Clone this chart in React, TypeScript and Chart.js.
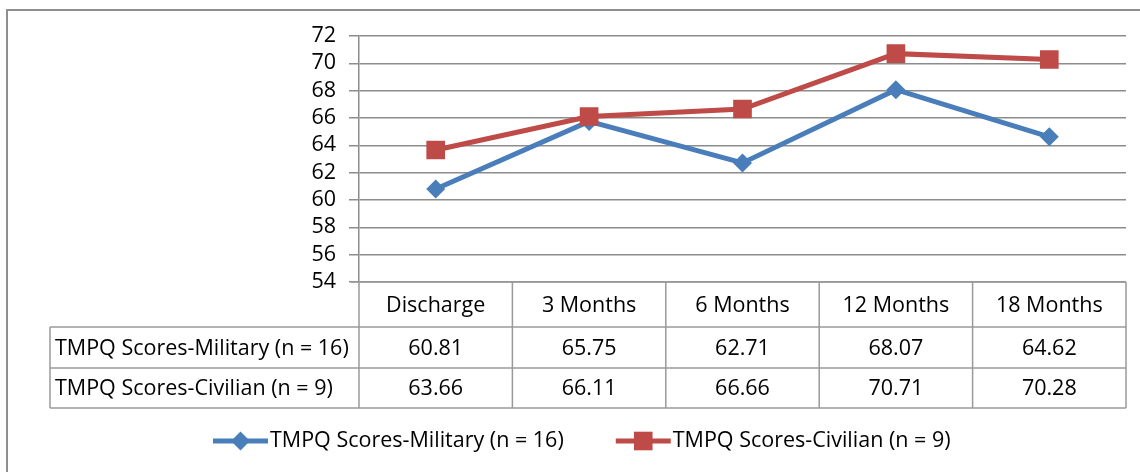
import React, { useEffect, useRef } from "react";
import { Chart, registerables } from "chart.js";

Chart.register(...registerables);

const categories = ["Discharge", "3 Months", "6 Months", "12 Months", "18 Months"];
const militaryLabel = "TMPQ Scores-Military (n = 16)";
const civilianLabel = "TMPQ Scores-Civilian (n = 9)";
const militaryValues = [60.81, 65.75, 62.71, 68.07, 64.62];
const civilianValues = [63.66, 66.11, 66.66, 70.71, 70.28];
const yMin = 54;
const yMax = 72;
const yStep = 2;

const FONT = "'Open Sans', sans-serif";
const FONT_SIZE = 21.5;
const BLUE = "#4A7EBB";
const RED = "#BE4B48";
const GRID = "#8c8c8c";
const TABLE = "#9a9a9a";

function drawMarker(ctx: CanvasRenderingContext2D, style: string, x: number, y: number, color: string) {
  ctx.save();
  ctx.fillStyle = color;
  ctx.beginPath();
  if (style === "rectRot") {
    const r = 9.5;
    ctx.moveTo(x, y - r);
    ctx.lineTo(x + r, y);
    ctx.lineTo(x, y + r);
    ctx.lineTo(x - r, y);
    ctx.closePath();
  } else {
    const h = 9.3;
    ctx.rect(x - h, y - h, 2 * h, 2 * h);
  }
  ctx.fill();
  ctx.restore();
}

const tablePlugin = {
  id: "tablePlugin",
  afterDraw(chart: any) {
    const ctx: CanvasRenderingContext2D = chart.ctx;
    const area = chart.chartArea;
    const xs = chart.scales.x;
    const n = categories.length;
    const w = (area.right - area.left) / n;
    const top = area.bottom;
    const rowY = [top, 327, 368, 408];
    const labelLeft = 50;

    ctx.save();
    // outer border
    ctx.strokeStyle = "#8f8f8f";
    ctx.lineWidth = 2;
    ctx.beginPath();
    ctx.moveTo(7, chart.height);
    ctx.lineTo(7, 10);
    ctx.lineTo(chart.width, 10);
    ctx.stroke();

    // table lines
    ctx.strokeStyle = TABLE;
    ctx.lineWidth = 1.5;
    ctx.beginPath();
    ctx.moveTo(area.left - 8, top);
    ctx.lineTo(area.right, top);
    for (let r = 1; r < rowY.length; r++) {
      ctx.moveTo(labelLeft, rowY[r]);
      ctx.lineTo(area.right, rowY[r]);
    }
    for (let i = 0; i <= n; i++) {
      const bx = area.left + i * w;
      ctx.moveTo(bx, top);
      ctx.lineTo(bx, rowY[3]);
    }
    ctx.moveTo(labelLeft, rowY[1]);
    ctx.lineTo(labelLeft, rowY[3]);
    ctx.stroke();

    // texts
    ctx.fillStyle = "#000";
    ctx.font = `${FONT_SIZE}px ${FONT}`;
    ctx.textBaseline = "middle";
    ctx.textAlign = "center";
    const rows = [militaryValues, civilianValues];
    for (let i = 0; i < n; i++) {
      const cx = xs.getPixelForValue(i);
      ctx.fillText(categories[i], cx, (rowY[0] + rowY[1]) / 2 + 1);
      for (let r = 0; r < rows.length; r++) {
        ctx.fillText(rows[r][i].toFixed(2), cx, (rowY[r + 1] + rowY[r + 2]) / 2 + 1);
      }
    }
    ctx.textAlign = "left";
    ctx.fillText(militaryLabel, 55, (rowY[1] + rowY[2]) / 2 + 1);
    ctx.fillText(civilianLabel, 55, (rowY[2] + rowY[3]) / 2 + 1);

    // legend
    const ly = 441;
    const items = [
      { label: militaryLabel, color: BLUE, style: "rectRot" },
      { label: civilianLabel, color: RED, style: "rect" },
    ];
    let x = 213;
    for (const it of items) {
      ctx.strokeStyle = it.color;
      ctx.lineWidth = 5;
      ctx.beginPath();
      ctx.moveTo(x, ly);
      ctx.lineTo(x + 55, ly);
      ctx.stroke();
      drawMarker(ctx, it.style, x + 27.5, ly, it.color);
      ctx.fillStyle = "#000";
      ctx.textAlign = "left";
      ctx.fillText(it.label, x + 57, ly);
      x += 57 + ctx.measureText(it.label).width + 52;
    }
    ctx.restore();
  },
};

export default function App() {
  const ref = useRef<HTMLCanvasElement>(null);
  useEffect(() => {
    if (!ref.current) return;
    const chart = new Chart(ref.current, {
      type: "line",
      data: {
        labels: categories,
        datasets: [
          {
            label: militaryLabel,
            data: militaryValues,
            borderColor: BLUE,
            backgroundColor: BLUE,
            borderWidth: 5,
            pointStyle: "rectRot",
            pointRadius: 9.5,
            pointBorderWidth: 0,
            tension: 0,
            order: 1,
          },
          {
            label: civilianLabel,
            data: civilianValues,
            borderColor: RED,
            backgroundColor: RED,
            borderWidth: 5,
            pointStyle: "rect",
            pointRadius: 13.2,
            pointBorderWidth: 0,
            tension: 0,
            order: 0,
          },
        ],
      },
      options: {
        responsive: false,
        animation: false,
        layout: { padding: { left: 0, right: 14, top: 36, bottom: 190 } },
        plugins: { legend: { display: false }, tooltip: { enabled: false } },
        scales: {
          x: { display: false, offset: true },
          y: {
            min: yMin,
            max: yMax,
            ticks: {
              stepSize: yStep,
              autoSkip: false,
              color: "#000",
              font: { family: FONT, size: FONT_SIZE },
              padding: 13,
            },
            grid: { color: GRID, lineWidth: 1.5, tickLength: 10, drawTicks: true },
            border: { color: GRID, width: 1.5 },
            afterFit: (s: any) => {
              s.width = 359;
            },
          },
        },
      },
      plugins: [tablePlugin],
    });
    return () => chart.destroy();
  }, []);
  return (
    <div style={{ position: "fixed", left: 0, top: 0, width: 1140, height: 472, background: "#fff" }}>
      <canvas ref={ref} width={1140} height={472} />
    </div>
  );
}
